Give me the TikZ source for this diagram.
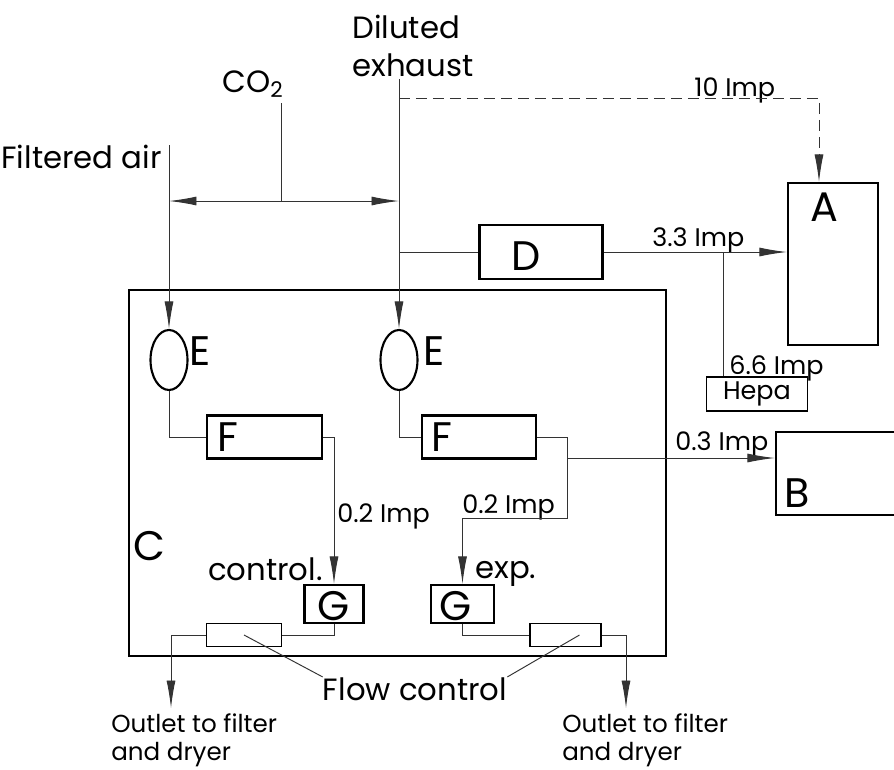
\documentclass[tikz,border=0pt]{standalone}
\usepackage{fontspec}
\setmainfont{Poppins}
\usetikzlibrary{arrows.meta,shapes.geometric}

\tikzset{
  unit/.style={draw, line width=1.3pt, inner sep=0pt},
  pipe/.style={line width=0.55pt, draw=black!80},
  feed/.style={pipe, -{Latex[length=5.5mm,width=1.8mm]}},
  big/.style={font=\fontsize{17.5}{21.5}\selectfont, inner sep=0pt},
  letter/.style={font=\fontsize{23.5}{26}\selectfont, inner sep=0pt},
  rate/.style={font=\fontsize{14.5}{17}\selectfont, inner sep=0pt},
  note/.style={font=\fontsize{14}{16}\selectfont, inner sep=0pt, align=left},
}

\begin{document}
\begin{tikzpicture}[x=0.02cm, y=-0.02cm]
  \useasboundingbox (0,0) rectangle (894,769);
  %
  % chamber and units
  \node[unit, minimum width=10.74cm, minimum height=7.32cm] (C) at (397.5,473) {};
  \node[letter] (Clab) at (149,546) {C};
  \node[unit, minimum width=2.46cm, minimum height=1.08cm] (D) at (541,252) {};
  \node[letter] (Dlab) at (526,256) {D};
  \node[unit, minimum width=1.8cm, minimum height=3.24cm] (A) at (833,264) {};
  \node[letter] (Alab) at (824,207) {A};
  \node[unit, minimum width=2.56cm, minimum height=1.66cm] (B) at (840,473.5) {};
  \node[letter] (Blab) at (797,493) {B};
  \node[unit, line width=0.9pt, minimum width=2.02cm, minimum height=0.68cm,
        rate] (Hepa) at (757,394) {Hepa\hspace{0.5em}};
  %
  % dilution line
  \node[unit, ellipse, line width=1.2pt, minimum width=0.74cm, minimum height=1.2cm] (El) at (169,360) {};
  \node[unit, ellipse, line width=1.2pt, minimum width=0.74cm, minimum height=1.2cm] (Er) at (399,360) {};
  \node[letter] (Ellab) at (200,351) {E};
  \node[letter] (Erlab) at (434,351) {E};
  \node[unit, minimum width=2.3cm, minimum height=0.86cm] (Fl) at (264.5,437) {};
  \node[unit, minimum width=2.28cm, minimum height=0.86cm] (Fr) at (479,437) {};
  \node[letter] (Fllab) at (228,437) {F};
  \node[letter] (Frlab) at (442,437) {F};
  \node[unit, minimum width=1.18cm, minimum height=0.76cm] (Gl) at (334,604) {};
  \node[unit, minimum width=1.26cm, minimum height=0.76cm] (Gr) at (462.5,604) {};
  \node[letter] (Gllab) at (334,606) {G};
  \node[letter] (Grlab) at (456,606) {G};
  \node[unit, line width=1pt, minimum width=1.5cm, minimum height=0.46cm] (FCl) at (244,635) {};
  \node[unit, line width=1pt, minimum width=1.42cm, minimum height=0.46cm] (FCr) at (565.5,635) {};
  %
  % texts
  \node[big, anchor=base east] (air) at (162,168) {Filtered air};
  \node[big, anchor=base west] (co2) at (222,92) {CO\textsubscript{2}};
  \node[big, anchor=north west, align=left] (exh) at (352,15) {Diluted\\exhaust};
  \node[big, anchor=base east] (ctl) at (323,580) {control.};
  \node[big, anchor=base west] (exp) at (475,578) {exp.};
  \node[big, anchor=base] (fc) at (415,700) {Flow control};
  \node[note, anchor=north west] (outl) at (111,713) {Outlet to filter\\and dryer};
  \node[note, anchor=north west] (outr) at (562,713) {Outlet to filter\\and dryer};
  \node[rate, anchor=base west] (r10) at (694,96) {10 Imp};
  \node[rate, anchor=base west] (r33) at (652,246) {3.3 Imp};
  \node[rate, anchor=base west] (r66) at (729,374) {6.6 Imp};
  \node[rate, anchor=base west] (r03) at (675,450) {0.3 Imp};
  \node[rate, anchor=base west] (r02l) at (337,522) {0.2 Imp};
  \node[rate, anchor=base west] (r02r) at (462,513) {0.2 Imp};
  %
  % junctions
  \coordinate (airin) at (169,145);
  \coordinate (co2in) at (281,103);
  \coordinate (exin) at (399,79);
  \coordinate (airtap) at (169,201);
  \coordinate (co2tap) at (281,201);
  \coordinate (extap) at (399,201);
  \coordinate (dashtap) at (399,98);
  \coordinate (dashturn) at (819,98);
  \coordinate (dtap) at (399,252);
  \coordinate (hepatap) at (723,252);
  \coordinate (frturn) at (567,437);
  \coordinate (frdrop) at (567,518);
  \coordinate (btap) at (567,458);
  \coordinate (outlend) at (171,708);
  \coordinate (outrend) at (626,708);
  %
  % connectors
  \draw[feed] (airin) -- (El.north);
  \draw[feed] (exin) -- (Er.north);
  \draw[pipe] (co2in) -- (co2tap);
  \draw[pipe, {Latex[length=5.5mm,width=1.8mm]}-{Latex[length=5.5mm,width=1.8mm]}] (airtap) -- (extap);
  \draw[feed, dash pattern=on 0.22cm off 0.12cm] (dashtap) -- (dashturn) -- (dashturn |- A.north);
  \draw[pipe] (dtap) -- (D.west);
  \draw[feed] (D.east) -- (A.west |- D.east);
  \draw[pipe] (hepatap) -- (hepatap |- Hepa.north);
  %
  \draw[pipe] (El.south) |- (Fl.west);
  \draw[pipe] (Er.south) |- (Fr.west);
  \draw[feed] (Fl.east) -| (Gl.north);
  \draw[feed] (Fr.east) -- (frturn) -- (frdrop) -| (Gr.north);
  \draw[feed] (btap) -- (B.west |- btap);
  %
  \draw[pipe] (Gl.south) |- (FCl.east);
  \draw[pipe] (Gr.south) |- (FCr.west);
  \draw[feed] (FCl.west) -| (outlend);
  \draw[feed] (FCr.east) -| (outrend);
  \draw[pipe] (FCl.center) -- (fc.north west);
  \draw[pipe] ([xshift=0.28cm]FCr.center) -- (fc.north east);
\end{tikzpicture}
\end{document}
